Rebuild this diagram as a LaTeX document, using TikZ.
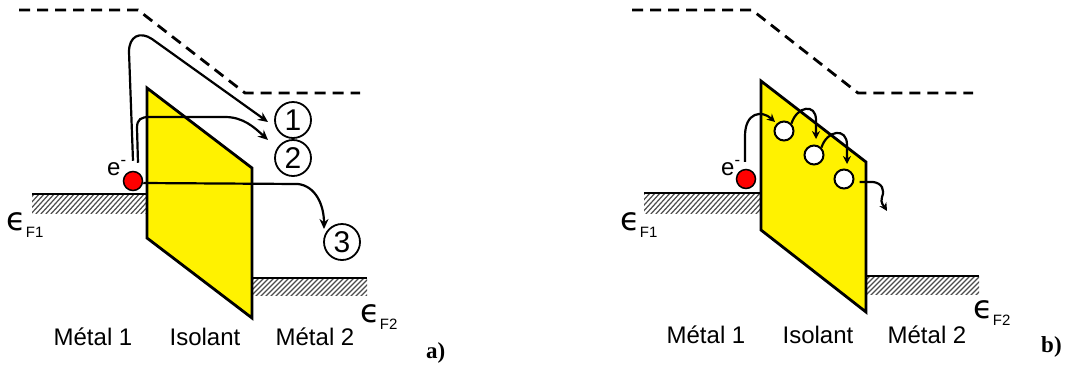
\documentclass[tikz,border=0pt]{standalone}
\usepackage{fontspec}
\setmainfont{Liberation Sans}
\newfontfamily\dejavu{DejaVu Sans}
\newfontfamily\serifbold{Liberation Serif}
\usetikzlibrary{arrows.meta}
\tikzset{
  band/.style={line width=2.8pt, dash pattern=on 11pt off 7pt},
  level/.style={line width=2.5pt},
  hatchline/.style={draw=black!70, line width=1.2pt},
  barrier/.style={fill=yellow, draw=black, line width=2.8pt, line join=miter},
  arr/.style={line width=2.2pt, -{Stealth[length=10pt,width=9pt]}},
  arrb/.style={line width=2.2pt, -{Stealth[length=8pt,width=8pt]}},
  num/.style={circle, draw, line width=1.8pt, minimum size=36pt, inner sep=0pt, font=\fontsize{30}{30}\selectfont},
  lab/.style={font=\fontsize{24}{24}\selectfont, anchor=base},
  elab/.style={font=\fontsize{24}{24}\selectfont, anchor=base west, inner sep=0pt},
  epslab/.style={anchor=base west, inner sep=0pt},
  panel/.style={font=\serifbold\bfseries\fontsize{23}{23}\selectfont, anchor=base west, inner sep=0pt},
  electron/.style={circle, fill=red, draw=black, line width=1.5pt, minimum size=19pt, inner sep=0pt},
  trap/.style={circle, fill=white, draw=black, line width=2pt, minimum size=19pt, inner sep=0pt}
}
\newcommand{\epsF}[1]{{\dejavu\fontsize{32}{32}\selectfont ϵ}\raisebox{-7pt}{\fontsize{15}{15}\selectfont #1}}
\begin{document}
\begin{tikzpicture}[x=1pt,y=-1pt]
\useasboundingbox (0,0) rectangle (1068,365);

% ================= panel a =================
\draw[band] (19,10) -- (138,10) -- (245,93) -- (360,93);
% hatched Fermi seas
\begin{scope}
  \clip (32,194) rectangle (147,213);
  \foreach \x in {10,15,...,150} \draw[hatchline] (\x,215) -- (\x+21,192);
\end{scope}
\begin{scope}
  \clip (252,278) rectangle (367,295);
  \foreach \x in {230,235,...,370} \draw[hatchline] (\x,297) -- (\x+21,276);
\end{scope}
\draw[level] (32,194) -- (147,194);
\draw[level] (252,278) -- (367,278);
% barrier
\draw[barrier] (147,88) -- (252,168) -- (252,318) -- (147,238) -- cycle;
% electron and processes
\node[electron] (ea) at (133,181) {};
\node[elab] (ela) at (107,175) {e\textsuperscript{-}};
\node[num] (n1) at (293,120) {1};
\node[num] (n2) at (293,158) {2};
\node[num] (n3) at (342,242) {3};
\coordinate (t1) at (268,122);
\coordinate (t2) at (268,140);
\coordinate (t3) at (324,229);
\draw[arr] ([shift={(0,-10)}]ea.north) -- (129,52) .. controls (129,36) and (140,31) .. (152,39) -- (t1);
\draw[arr] ([shift={(5,-8)}]ea.north) -- (137,128) .. controls (137,119) and (141,117) .. (150,117) -- (225,117) .. controls (243,117) and (254,127) .. (t2);
\draw[arr] ([shift={(0,2)}]ea.east) -- (298,184) .. controls (315,186) and (324,204) .. (t3);
% labels
\node[epslab] (f1a) at (6,230) {\epsF{F1}};
\node[epslab] (f2a) at (360,322) {\epsF{F2}};
\node[lab] (m1a) at (93,345) {Métal 1};
\node[lab] (isa) at (205,345) {Isolant};
\node[lab] (m2a) at (315,345) {Métal 2};
\node[panel] (pa) at (426,358) {a)};

% ================= panel b =================
\draw[band] (632,10) -- (752,10) -- (858,93) -- (973,93);
\begin{scope}
  \clip (644,193) rectangle (761,213);
  \foreach \x in {620,625,...,765} \draw[hatchline] (\x,215) -- (\x+21,192);
\end{scope}
\begin{scope}
  \clip (866,276) rectangle (979,294);
  \foreach \x in {845,850,...,985} \draw[hatchline] (\x,296) -- (\x+21,275);
\end{scope}
\draw[level] (644,193) -- (761,193);
\draw[level] (866,276) -- (979,276);
\draw[barrier] (761,81) -- (866,162) -- (866,312) -- (761,230) -- cycle;
\node[electron] (eb) at (746,179) {};
\node[elab] (elb) at (721,175) {e\textsuperscript{-}};
\node[trap] (tr1) at (784,131) {};
\node[trap] (tr2) at (814,155) {};
\node[trap] (tr3) at (844,179) {};
\coordinate (h0) at (775,122);
\coordinate (h1) at (816,139);
\coordinate (h2) at (847,164);
\coordinate (h3) at (887,211);
\draw[arrb] ([shift={(-1,-7)}]eb.north) -- (745,136) .. controls (745,112) and (762,110) .. (h0);
\draw[arrb] (tr1.north east) .. controls (797,106) and (816,103) .. (816,120) -- (h1);
\draw[arrb] (tr2.north east) .. controls (827,130) and (847,127) .. (847,145) -- (h2);
\draw[arrb] ([shift={(5,3)}]tr3.east) -- (873,182) .. controls (882,183) and (885,190) .. (882,197) .. controls (880,203) and (884,206) .. (h3);
\node[epslab] (f1b) at (620,230) {\epsF{F1}};
\node[epslab] (f2b) at (973,318) {\epsF{F2}};
\node[lab] (m1b) at (706,343) {Métal 1};
\node[lab] (isb) at (818,343) {Isolant};
\node[lab] (m2b) at (927,343) {Métal 2};
\node[panel] (pb) at (1041,352) {b)};
\end{tikzpicture}
\end{document}
